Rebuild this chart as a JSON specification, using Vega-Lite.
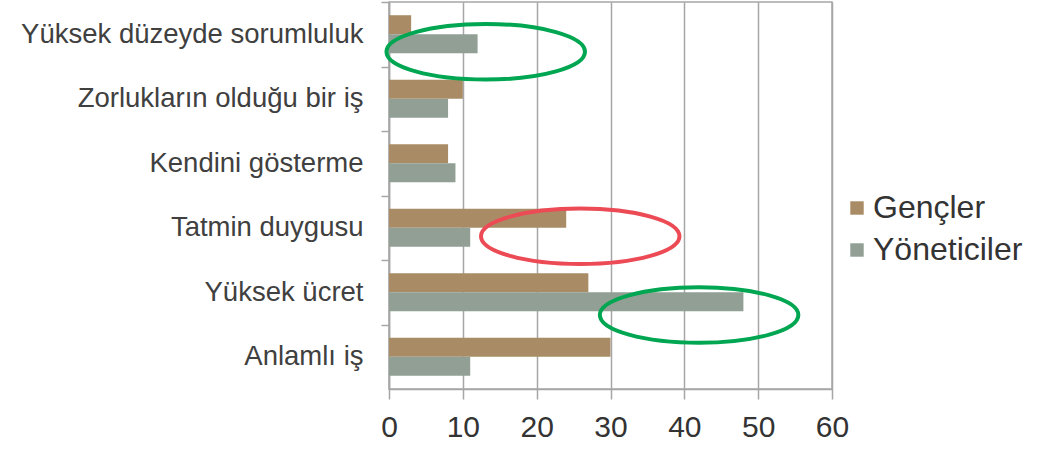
{
  "$schema": "https://vega.github.io/schema/vega-lite/v6.json",
  "width": 443,
  "height": 387,
  "autosize": {"type": "none"},
  "padding": {"left": 389, "top": 2, "right": 213, "bottom": 60},
  "background": "white",
  "config": {
    "font": "Liberation Sans",
    "view": {"stroke": "#A6A6A6", "strokeWidth": 1.5}
  },
  "datasets": {
    "bars": [
      {"category": "Yüksek düzeyde sorumluluk", "series": "Gençler", "value": 3},
      {"category": "Yüksek düzeyde sorumluluk", "series": "Yöneticiler", "value": 12},
      {"category": "Zorlukların olduğu bir iş", "series": "Gençler", "value": 10},
      {"category": "Zorlukların olduğu bir iş", "series": "Yöneticiler", "value": 8},
      {"category": "Kendini gösterme", "series": "Gençler", "value": 8},
      {"category": "Kendini gösterme", "series": "Yöneticiler", "value": 9},
      {"category": "Tatmin duygusu", "series": "Gençler", "value": 24},
      {"category": "Tatmin duygusu", "series": "Yöneticiler", "value": 11},
      {"category": "Yüksek ücret", "series": "Gençler", "value": 27},
      {"category": "Yüksek ücret", "series": "Yöneticiler", "value": 48},
      {"category": "Anlamlı iş", "series": "Gençler", "value": 30},
      {"category": "Anlamlı iş", "series": "Yöneticiler", "value": 11}
    ],
    "ellipses": [
      {"category": "Yüksek düzeyde sorumluluk", "center": 13.1},
      {"category": "Tatmin duygusu", "center": 25.9},
      {"category": "Yüksek ücret", "center": 42.0}
    ]
  },
  "layer": [
    {
      "data": {"name": "bars"},
      "mark": {"type": "bar"},
      "encoding": {
        "y": {
          "field": "category",
          "type": "nominal",
          "sort": ["Yüksek düzeyde sorumluluk", "Zorlukların olduğu bir iş", "Kendini gösterme", "Tatmin duygusu", "Yüksek ücret", "Anlamlı iş"],
          "title": null,
          "scale": {"paddingInner": 0.41, "paddingOuter": 0.205},
          "axis": {
            "tickOffset": -32.25,
            "labelOffset": 32.25,
            "tickSize": 8,
            "labelPadding": 18,
            "labelFontSize": 27.5,
            "labelColor": "#404040",
            "labelLimit": 500,
            "domainColor": "#A6A6A6",
            "domainWidth": 1.5,
            "tickColor": "#A6A6A6",
            "tickWidth": 1.5,
            "encode": {
              "labels": {
                "update": {
                  "dy": {"signal": "datum.value === 'Zorlukların olduğu bir iş' || datum.value === 'Kendini gösterme' ? -7 : datum.value === 'Yüksek düzeyde sorumluluk' ? -3 : datum.value === 'Tatmin duygusu' ? -2 : 0"}
                }
              }
            }
          }
        },
        "x": {
          "field": "value",
          "type": "quantitative",
          "scale": {"domain": [0, 60], "nice": false},
          "title": null,
          "axis": {
            "values": [0, 10, 20, 30, 40, 50, 60],
            "grid": true,
            "gridColor": "#A6A6A6",
            "gridWidth": 1.5,
            "tickSize": 10,
            "labelPadding": 13,
            "labelFontSize": 30,
            "labelColor": "#333333",
            "labelFlush": false,
            "domainColor": "#A6A6A6",
            "domainWidth": 1.5,
            "tickColor": "#A6A6A6",
            "tickWidth": 1.5
          }
        },
        "yOffset": {"field": "series", "type": "nominal", "sort": ["Gençler", "Yöneticiler"]},
        "color": {
          "field": "series",
          "type": "nominal",
          "scale": {"domain": ["Gençler", "Yöneticiler"], "range": ["#A98C65", "#919F94"]},
          "legend": {
            "title": null,
            "orient": "none",
            "legendX": 452,
            "legendY": 190,
            "padding": 0,
            "symbolType": "square",
            "symbolSize": 180,
            "symbolStrokeWidth": 0,
            "labelFontSize": 32,
            "labelColor": "#333333",
            "labelOffset": 0,
            "rowPadding": 10
          }
        }
      }
    },
    {
      "data": {"name": "ellipses"},
      "transform": [{"filter": "datum.category === 'Yüksek düzeyde sorumluluk'"}],
      "mark": {"type": "point", "shape": "M -1 0 A 1 0.28 0 1 0 1 0 A 1 0.28 0 1 0 -1 0 Z", "size": 39400, "filled": false, "stroke": "#00A651", "strokeWidth": 4, "opacity": 1, "yOffset": 17.5},
      "encoding": {
        "x": {"field": "center", "type": "quantitative"},
        "y": {"field": "category", "type": "nominal", "sort": ["Yüksek düzeyde sorumluluk", "Zorlukların olduğu bir iş", "Kendini gösterme", "Tatmin duygusu", "Yüksek ücret", "Anlamlı iş"]}
      }
    },
    {
      "data": {"name": "ellipses"},
      "transform": [{"filter": "datum.category === 'Tatmin duygusu'"}],
      "mark": {"type": "point", "shape": "M -1 0 A 1 0.28 0 1 0 1 0 A 1 0.28 0 1 0 -1 0 Z", "size": 39400, "filled": false, "stroke": "#EC4B55", "strokeWidth": 4, "opacity": 1, "yOffset": 8.5},
      "encoding": {
        "x": {"field": "center", "type": "quantitative"},
        "y": {"field": "category", "type": "nominal", "sort": ["Yüksek düzeyde sorumluluk", "Zorlukların olduğu bir iş", "Kendini gösterme", "Tatmin duygusu", "Yüksek ücret", "Anlamlı iş"]}
      }
    },
    {
      "data": {"name": "ellipses"},
      "transform": [{"filter": "datum.category === 'Yüksek ücret'"}],
      "mark": {"type": "point", "shape": "M -1 0 A 1 0.28 0 1 0 1 0 A 1 0.28 0 1 0 -1 0 Z", "size": 39400, "filled": false, "stroke": "#00A651", "strokeWidth": 4, "opacity": 1, "yOffset": 22.75},
      "encoding": {
        "x": {"field": "center", "type": "quantitative"},
        "y": {"field": "category", "type": "nominal", "sort": ["Yüksek düzeyde sorumluluk", "Zorlukların olduğu bir iş", "Kendini gösterme", "Tatmin duygusu", "Yüksek ücret", "Anlamlı iş"]}
      }
    }
  ]
}
